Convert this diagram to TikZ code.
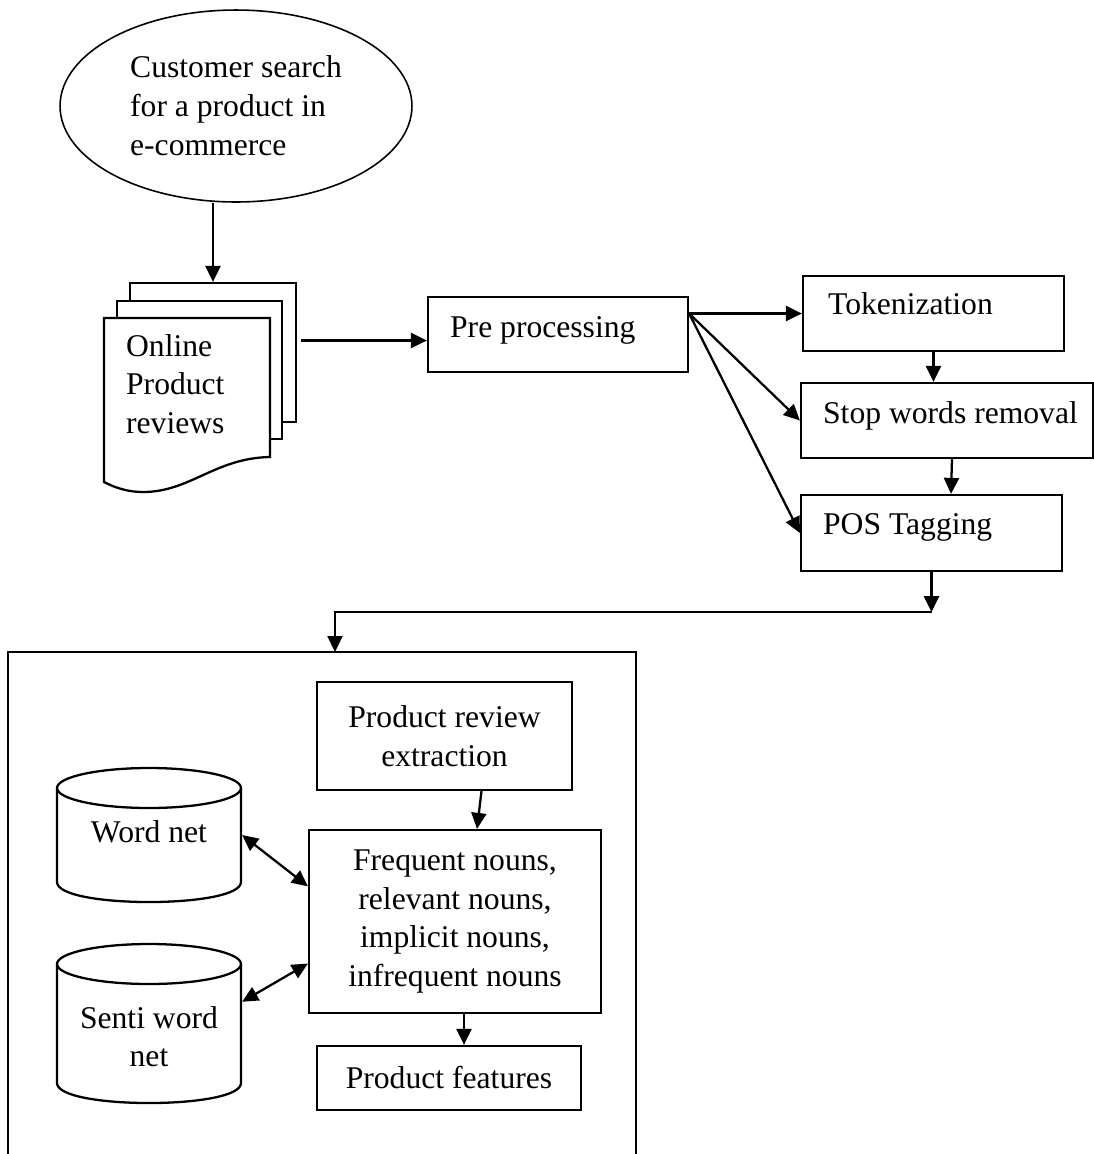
\documentclass[tikz,border=0pt]{standalone}
\usepackage{fontspec}
\setmainfont{Liberation Serif}
\usetikzlibrary{arrows.meta,calc,shapes.geometric}
\begin{document}
\begin{tikzpicture}[x=0.02cm,y=-0.02cm,
  line width=1.3pt,
  tip/.tip={Triangle[length=0.32cm,width=0.3cm]},
  arr/.style={-tip},
  darr/.style={tip-tip},
  box/.style={draw, rectangle, inner sep=0pt, align=center},
  txt/.style={inner sep=0pt, align=left},
  every node/.append style={font=\fontsize{18}{22.1}\selectfont}]
\useasboundingbox (0,0) rectangle (1094,1154);
\fill[white] (0,0) rectangle (1094,1154);

% start ellipse
\node[draw, ellipse, line width=0.9pt, inner sep=0pt, minimum width=7.04cm, minimum height=3.84cm, align=left] (cust) at (236,106) {Customer search\\for a product in\\e-commerce\hspace*{0pt}};

% document stack
\node[box, fill=white, minimum width=3.32cm, minimum height=2.78cm] (page3) at (213,352.5) {};
\node[box, fill=white, minimum width=3.30cm, minimum height=2.76cm] (page2) at (199.5,370) {};
\draw[fill=white] (104,318) -- (270,318) -- (270,457) .. controls (215,458) and (190,492) .. (143,492) .. controls (125,492) and (112,486) .. (104,482) -- cycle;
\node[txt, anchor=north west] (docs) at (125,333) {Online\\Product\\reviews};

% preprocessing
\node[box, minimum width=5.2cm, minimum height=1.5cm] (pre) at (558,334.5) {};
\node[txt, anchor=base west] (pretxt) at (449,337) {Pre processing};

\node[box, minimum width=5.22cm, minimum height=1.5cm] (tok) at (933.5,313.5) {};
\node[txt, anchor=base west] (toktxt) at (827,314) {Tokenization};

\node[box, minimum width=5.84cm, minimum height=1.5cm] (stop) at (947,420.5) {};
\node[txt, anchor=base west] (stoptxt) at (822,423) {Stop words removal};

\node[box, minimum width=5.22cm, minimum height=1.52cm] (pos) at (931.5,533) {};
\node[txt, anchor=base west] (postxt) at (822,534) {POS Tagging};

% lower container
\draw (8,1154) -- (8,652) -- (636,652) -- (636,1154);
\coordinate (bb) at (335,652);

\node[box, minimum width=5.1cm, minimum height=2.16cm] (pre2) at (444.5,736) {Product review\\extraction};
\node[box, minimum width=5.84cm, minimum height=3.66cm] (freq) at (455,921.5) {Frequent nouns,\\relevant nouns,\\implicit nouns,\\infrequent nouns};
\node[box, minimum width=5.28cm, minimum height=1.28cm] (feat) at (449,1078) {Product features};

% cylinders
\draw (57,788) -- (57,882) .. controls (57,908.7) and (241,908.7) .. (241,882) -- (241,788);
\draw (149,788) ellipse [x radius=1.84cm, y radius=0.4cm];
\node[inner sep=0pt, minimum width=3.68cm, minimum height=2.28cm] (wn) at (149,835) {};
\node[anchor=base, inner sep=0pt] (wntxt) at (149,842) {Word net};

\draw (57,964) -- (57,1083) .. controls (57,1109.7) and (241,1109.7) .. (241,1083) -- (241,964);
\draw (149,964) ellipse [x radius=1.84cm, y radius=0.4cm];
\node[inner sep=0pt, minimum width=3.68cm, minimum height=3.18cm] (senti) at (149,1023.5) {};
\node[anchor=north, inner sep=0pt, align=center] (sentitxt) at (149,1005) {Senti word\\net};

% connectors
\draw[arr] (cust.south -| page3.north) -- (page3.north);
\coordinate (pw) at ($(pre.west)+(0,6)$);
\coordinate (dw) at (page3.east |- pw);
\draw[arr] ($(dw)+(4,0)$) -- (pw);

\coordinate (pe) at (pre.east |- tok.west);
\draw[arr] (pe) -- (tok.west);
\draw[arr] (pe) -- (stop.west);
\draw[arr] (pe) -- (pos.west);
\draw[arr] (tok.south) -- (tok.south |- stop.north);
\draw[arr] ($(stop.south)+(5,0)$) -- ($(pos.north)+(19.5,0)$);

\path (pos.south) ++(0,40) coordinate (j1);
\draw[arr] (pos.south) -- (j1);
\draw[arr] (j1) -| (bb);

\draw[arr] ([xshift=0.74cm]pre2.south) -- ([xshift=0.44cm]freq.north);
\coordinate (fs) at ($(freq.south)+(9,0)$);
\draw[arr] (fs) -- (fs |- feat.north);
\draw[darr] (wn.east) -- ($(freq.north west)!0.31!(freq.south west)$);
\draw[darr] ($(senti.north east)!0.365!(senti.south east)$) -- ($(freq.north west)!0.727!(freq.south west)$);
\end{tikzpicture}
\end{document}
